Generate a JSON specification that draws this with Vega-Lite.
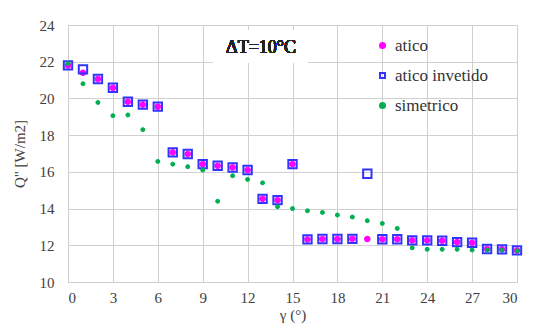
{
  "$schema": "https://vega.github.io/schema/vega-lite/v6.json",
  "width": 449,
  "height": 257,
  "autosize": {"type": "none"},
  "padding": {"left": 68, "top": 25, "right": 29, "bottom": 52},
  "background": "white",
  "config": {
    "view": {"stroke": "#d0d0d0", "strokeWidth": 1},
    "legend": {"orient": "none", "legendX": 306, "legendY": 12, "symbolSize": 25, "symbolStrokeWidth": 2, "labelFont": "Liberation Serif", "labelFontSize": 17, "labelColor": "#333333", "rowPadding": 12, "labelOffset": 4}
  },
  "data": {
    "values": [
      {"g": 0, "q": 21.8, "s": "atico"},
      {"g": 1, "q": 21.4, "s": "atico"},
      {"g": 2, "q": 21.06, "s": "atico"},
      {"g": 3, "q": 20.58, "s": "atico"},
      {"g": 4, "q": 19.82, "s": "atico"},
      {"g": 5, "q": 19.66, "s": "atico"},
      {"g": 6, "q": 19.55, "s": "atico"},
      {"g": 7, "q": 17.06, "s": "atico"},
      {"g": 8, "q": 16.97, "s": "atico"},
      {"g": 9, "q": 16.42, "s": "atico"},
      {"g": 10, "q": 16.33, "s": "atico"},
      {"g": 11, "q": 16.24, "s": "atico"},
      {"g": 12, "q": 16.1, "s": "atico"},
      {"g": 13, "q": 14.53, "s": "atico"},
      {"g": 14, "q": 14.46, "s": "atico"},
      {"g": 15, "q": 16.42, "s": "atico"},
      {"g": 16, "q": 12.32, "s": "atico"},
      {"g": 17, "q": 12.34, "s": "atico"},
      {"g": 18, "q": 12.34, "s": "atico"},
      {"g": 19, "q": 12.35, "s": "atico"},
      {"g": 20, "q": 12.34, "s": "atico"},
      {"g": 21, "q": 12.33, "s": "atico"},
      {"g": 22, "q": 12.33, "s": "atico"},
      {"g": 23, "q": 12.27, "s": "atico"},
      {"g": 24, "q": 12.27, "s": "atico"},
      {"g": 25, "q": 12.25, "s": "atico"},
      {"g": 26, "q": 12.17, "s": "atico"},
      {"g": 27, "q": 12.14, "s": "atico"},
      {"g": 28, "q": 11.8, "s": "atico"},
      {"g": 29, "q": 11.78, "s": "atico"},
      {"g": 30, "q": 11.72, "s": "atico"},
      {"g": 0, "q": 21.8, "s": "atico invetido"},
      {"g": 1, "q": 21.58, "s": "atico invetido"},
      {"g": 2, "q": 21.06, "s": "atico invetido"},
      {"g": 3, "q": 20.58, "s": "atico invetido"},
      {"g": 4, "q": 19.82, "s": "atico invetido"},
      {"g": 5, "q": 19.66, "s": "atico invetido"},
      {"g": 6, "q": 19.55, "s": "atico invetido"},
      {"g": 7, "q": 17.06, "s": "atico invetido"},
      {"g": 8, "q": 16.97, "s": "atico invetido"},
      {"g": 9, "q": 16.42, "s": "atico invetido"},
      {"g": 10, "q": 16.33, "s": "atico invetido"},
      {"g": 11, "q": 16.24, "s": "atico invetido"},
      {"g": 12, "q": 16.1, "s": "atico invetido"},
      {"g": 13, "q": 14.53, "s": "atico invetido"},
      {"g": 14, "q": 14.46, "s": "atico invetido"},
      {"g": 15, "q": 16.42, "s": "atico invetido"},
      {"g": 16, "q": 12.32, "s": "atico invetido"},
      {"g": 17, "q": 12.34, "s": "atico invetido"},
      {"g": 18, "q": 12.34, "s": "atico invetido"},
      {"g": 19, "q": 12.35, "s": "atico invetido"},
      {"g": 20, "q": 15.9, "s": "atico invetido"},
      {"g": 21, "q": 12.33, "s": "atico invetido"},
      {"g": 22, "q": 12.33, "s": "atico invetido"},
      {"g": 23, "q": 12.27, "s": "atico invetido"},
      {"g": 24, "q": 12.27, "s": "atico invetido"},
      {"g": 25, "q": 12.25, "s": "atico invetido"},
      {"g": 26, "q": 12.17, "s": "atico invetido"},
      {"g": 27, "q": 12.14, "s": "atico invetido"},
      {"g": 28, "q": 11.8, "s": "atico invetido"},
      {"g": 29, "q": 11.78, "s": "atico invetido"},
      {"g": 30, "q": 11.72, "s": "atico invetido"},
      {"g": 0, "q": 21.9, "s": "simetrico"},
      {"g": 1, "q": 20.8, "s": "simetrico"},
      {"g": 2, "q": 19.78, "s": "simetrico"},
      {"g": 3, "q": 19.06, "s": "simetrico"},
      {"g": 4, "q": 19.1, "s": "simetrico"},
      {"g": 5, "q": 18.3, "s": "simetrico"},
      {"g": 6, "q": 16.57, "s": "simetrico"},
      {"g": 7, "q": 16.42, "s": "simetrico"},
      {"g": 8, "q": 16.28, "s": "simetrico"},
      {"g": 9, "q": 16.1, "s": "simetrico"},
      {"g": 10, "q": 14.4, "s": "simetrico"},
      {"g": 11, "q": 15.79, "s": "simetrico"},
      {"g": 12, "q": 15.59, "s": "simetrico"},
      {"g": 13, "q": 15.4, "s": "simetrico"},
      {"g": 14, "q": 14.1, "s": "simetrico"},
      {"g": 15, "q": 14.0, "s": "simetrico"},
      {"g": 16, "q": 13.88, "s": "simetrico"},
      {"g": 17, "q": 13.79, "s": "simetrico"},
      {"g": 18, "q": 13.65, "s": "simetrico"},
      {"g": 19, "q": 13.54, "s": "simetrico"},
      {"g": 20, "q": 13.34, "s": "simetrico"},
      {"g": 21, "q": 13.19, "s": "simetrico"},
      {"g": 22, "q": 12.92, "s": "simetrico"},
      {"g": 23, "q": 11.86, "s": "simetrico"},
      {"g": 24, "q": 11.78, "s": "simetrico"},
      {"g": 25, "q": 11.78, "s": "simetrico"},
      {"g": 26, "q": 11.78, "s": "simetrico"},
      {"g": 27, "q": 11.74, "s": "simetrico"},
      {"g": 28, "q": 11.74, "s": "simetrico"},
      {"g": 29, "q": 11.74, "s": "simetrico"},
      {"g": 30, "q": 11.7, "s": "simetrico"}
    ]
  },
  "encoding": {
    "x": {
      "field": "g", "type": "quantitative",
      "scale": {"domain": [0, 30], "nice": false},
      "axis": {
        "values": [0, 3, 6, 9, 12, 15, 18, 21, 24, 27, 30],
        "title": "γ (°)", "grid": true, "gridColor": "#d0d0d0", "domainColor": "#d0d0d0", "ticks": false,
        "labelFont": "Liberation Serif", "titleFont": "Liberation Serif",
        "labelFontSize": 15, "titleFontSize": 15, "titleFontWeight": "normal",
        "labelColor": "#404040", "titleColor": "#404040",
        "labelOverlap": false, "labelPadding": 8, "titlePadding": 2
      }
    },
    "y": {
      "field": "q", "type": "quantitative",
      "scale": {"domain": [10, 24], "nice": false, "zero": false},
      "axis": {
        "values": [10, 12, 14, 16, 18, 20, 22, 24],
        "title": "Q\" [W/m2]", "grid": true, "gridColor": "#d0d0d0", "domainColor": "#d0d0d0", "ticks": false,
        "labelFont": "Liberation Serif", "titleFont": "Liberation Serif",
        "labelFontSize": 15, "titleFontSize": 15, "titleFontWeight": "normal",
        "labelColor": "#404040", "titleColor": "#404040",
        "labelOverlap": false, "labelPadding": 14, "titlePadding": 12
      }
    }
  },
  "layer": [
    {
      "mark": {"type": "rect", "fill": "white"},
      "encoding": {
        "x": {"datum": 9.7, "type": "quantitative"},
        "x2": {"datum": 16.0},
        "y": {"datum": 21.95, "type": "quantitative"},
        "y2": {"datum": 23.7}
      }
    },
    {
      "mark": {"type": "text", "text": "ΔT=10°C", "font": "Liberation Serif", "fontSize": 18, "fontWeight": "normal", "color": "#222222"},
      "encoding": {
        "x": {"datum": 12.9, "type": "quantitative"},
        "y": {"datum": 22.75, "type": "quantitative"}
      }
    },
    {
      "transform": [{"filter": "datum.s === 'atico'"}],
      "mark": {"type": "point", "strokeWidth": 1, "size": 32, "opacity": 1},
      "encoding": {
        "shape": {"field": "s", "type": "nominal", "scale": {"domain": ["atico", "atico invetido", "simetrico"], "range": ["circle", "square", "circle"]}, "legend": {"title": null}},
        "fill": {"field": "s", "type": "nominal", "scale": {"domain": ["atico", "atico invetido", "simetrico"], "range": ["#ff00ff", "transparent", "#00b050"]}, "legend": {"title": null}},
        "stroke": {"field": "s", "type": "nominal", "scale": {"domain": ["atico", "atico invetido", "simetrico"], "range": ["#ff00ff", "#3333ff", "#00b050"]}, "legend": {"title": null}}
      }
    },
    {
      "transform": [{"filter": "datum.s === 'atico invetido'"}],
      "mark": {"type": "point", "strokeWidth": 2, "size": 70, "opacity": 1},
      "encoding": {
        "shape": {"field": "s", "type": "nominal"},
        "fill": {"field": "s", "type": "nominal"},
        "stroke": {"field": "s", "type": "nominal"}
      }
    },
    {
      "transform": [{"filter": "datum.s === 'simetrico'"}],
      "mark": {"type": "point", "strokeWidth": 1, "size": 16, "opacity": 1},
      "encoding": {
        "shape": {"field": "s", "type": "nominal"},
        "fill": {"field": "s", "type": "nominal"},
        "stroke": {"field": "s", "type": "nominal"}
      }
    }
  ]
}
